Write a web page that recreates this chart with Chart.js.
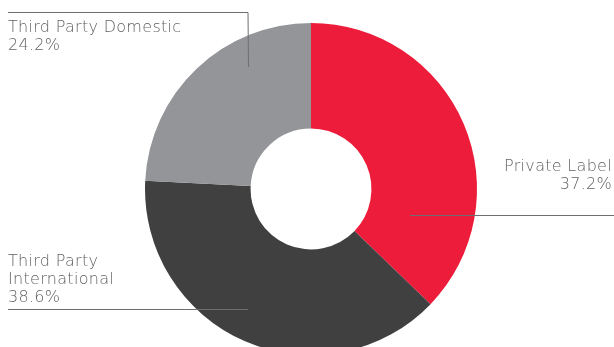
<!DOCTYPE html>
<html>
<head>
<meta charset="utf-8">
<script src="https://cdn.jsdelivr.net/npm/chart.js@4.4.1/dist/chart.umd.min.js"></script>
<style>
  html, body { margin: 0; padding: 0; background: #fff; overflow: hidden; }
  #wrap { width: 614px; height: 366px; position: relative; }
</style>
</head>
<body>
<div id="wrap"><canvas id="myChart"></canvas></div>
<script>
const categories = ['Private Label', 'Third Party International', 'Third Party Domestic'];
const shares = [37.2, 38.6, 24.2];
const colors = ['#ed1c3a', '#404041', '#939598'];

// label text lines, where the text sits and where the leader line goes
const labelLayout = [
  { lines: ['Private Label', '37.2%'], align: 'right', x: 612, y: 171,
    line: [[614, 215], [410, 215]] },
  { lines: ['Third Party', 'International', '38.6%'], align: 'left', x: 8, y: 266,
    line: [[8, 309], [248, 309]] },
  { lines: ['Third Party Domestic', '24.2%'], align: 'left', x: 8, y: 32,
    line: [[8, 12], [248, 12], [248, 67]] }
];

const calloutPlugin = {
  id: 'callouts',
  afterDatasetsDraw(chart) {
    const ctx = chart.ctx;
    ctx.save();
    ctx.strokeStyle = '#6d6e71';
    ctx.lineWidth = 1;
    ctx.fillStyle = '#616264';
    ctx.font = '200 16px "DejaVu Sans"';
    ctx.letterSpacing = '0.3px';
    ctx.textBaseline = 'alphabetic';
    labelLayout.forEach((lab) => {
      ctx.beginPath();
      lab.line.forEach((p, i) => {
        if (i == 0) ctx.moveTo(p[0], p[1] + 0.5);
        else ctx.lineTo(p[0] + (i == 2 ? 0.5 : 0), p[1] + (i == 2 ? 0 : 0.5));
      });
      ctx.stroke();
      ctx.textAlign = lab.align;
      lab.lines.forEach((t, i) => {
        ctx.fillText(t, lab.x, lab.y + i * 18);
      });
    });
    ctx.restore();
  }
};

const ctx = document.getElementById('myChart');
new Chart(ctx, {
  type: 'doughnut',
  data: {
    labels: categories,
    datasets: [{
      data: shares,
      backgroundColor: colors,
      borderWidth: 0
    }]
  },
  options: {
    responsive: true,
    maintainAspectRatio: false,
    animation: false,
    cutout: '36.4%',
    layout: { padding: { top: 23, bottom: 11, left: 8, right: 0 } },
    plugins: {
      legend: { display: false },
      tooltip: { enabled: false }
    }
  },
  plugins: [calloutPlugin]
});
</script>
</body>
</html>
